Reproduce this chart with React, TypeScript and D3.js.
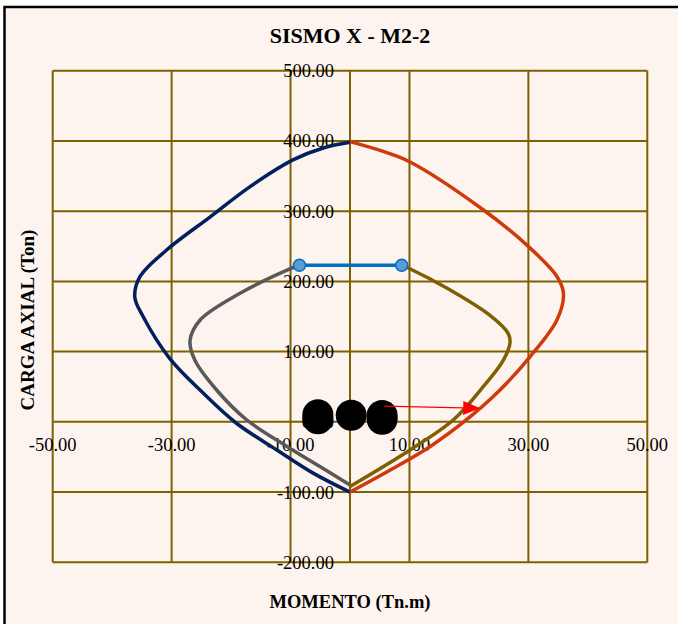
import React from "react";
import * as d3 from "d3";

type P = [number, number];

const xTicks = [-50, -30, -10, 10, 30, 50];
const yTicks = [500, 400, 300, 200, 100, 0, -100, -200];

const navyCurve: P[] = [[0, 398], [-4.5, 390], [-9.6, 373], [-16.8, 335], [-23.5, 292], [-30.8, 245], [-35.3, 207], [-36.2, 178], [-34.8, 150], [-30.3, 90], [-24.7, 41], [-19.1, -2], [-12.3, -40], [-6.2, -73], [0, -100]];
const redCurve: P[] = [[0, 399], [5.6, 385], [10.1, 370], [22.4, 302], [29.7, 252], [34.8, 207], [35.9, 183], [34.8, 145], [30.3, 93], [24.7, 41], [19.6, 3], [13.5, -35], [6.7, -69], [0, -100]];
const oliveCurve: P[] = [[8.7, 223], [9.8, 219], [16.8, 188], [23.5, 152], [26.6, 126], [26.9, 112], [25.8, 88], [22.4, 50], [17.4, 3], [10.1, -40], [0, -92]];
const greyCurve: P[] = [[-8.5, 223], [-10.6, 216], [-18.5, 183], [-25.2, 145], [-26.9, 116], [-26.1, 88], [-22.4, 45], [-17.4, 3], [-10.6, -35], [-5, -64], [0, -90]];
const blueLine: P[] = [[-8.5, 223], [8.7, 223]];
const demandPoints: P[] = [[-5.4, 10], [-5.4, 4.5], [0.2, 9.3], [5.4, 9.2], [5.4, 3.6]];
const arrowFrom: P = [5.7, 22.5];
const arrowTo: P = [21.9, 19.2];

const W = 678, H = 624;
const plot = { left: 52.7, right: 647.3, top: 70.7, bottom: 562.3 };
const GRID = "#7f6000";
const SERIF = "'Liberation Serif', 'Times New Roman', serif";
const fmt = (v: number) => d3.format(".2f")(v).replace("\u2212", "-");

export default function App() {
  const x = d3.scaleLinear().domain([-50, 50]).range([plot.left, plot.right]);
  const y = d3.scaleLinear().domain([-200, 500]).range([plot.bottom, plot.top]);
  const line = d3.line<P>().x(d => x(d[0])).y(d => y(d[1])).curve(d3.curveCatmullRom.alpha(0.5));
  const straight = d3.line<P>().x(d => x(d[0])).y(d => y(d[1]));

  const ax1 = x(arrowFrom[0]), ay1 = y(arrowFrom[1]);
  const ax2 = x(arrowTo[0]), ay2 = y(arrowTo[1]);
  const ang = Math.atan2(ay2 - ay1, ax2 - ax1);
  const hl = 17, hw = 7;
  const bx = ax2 - hl * Math.cos(ang), by = ay2 - hl * Math.sin(ang);
  const head = `M${ax2},${ay2}L${bx - hw * Math.sin(ang)},${by + hw * Math.cos(ang)}L${bx + hw * Math.sin(ang)},${by - hw * Math.cos(ang)}Z`;

  const vLines = [...xTicks, 0];

  return (
    <svg width={W} height={H} style={{ position: "absolute", left: 0, top: 0, background: "#ffffff" }}>
      <rect x={4.5} y={7} width={W + 10} height={H + 10} fill="#fdf4ef" stroke="#000" strokeWidth={2.5} />
      <text x={350} y={43} textAnchor="middle" fontFamily={SERIF} fontWeight="bold" fontSize={22}>SISMO X - M2-2</text>

      {yTicks.map(t => (
        <line key={"h" + t} x1={plot.left} x2={plot.right} y1={y(t)} y2={y(t)} stroke={GRID} strokeWidth={2} />
      ))}
      {vLines.map(t => (
        <line key={"v" + t} x1={x(t)} x2={x(t)} y1={plot.top} y2={plot.bottom} stroke={GRID} strokeWidth={2} />
      ))}

      {yTicks.map(t => (
        <text key={"yl" + t} x={x(0) - 16} y={y(t)} dy="0.35em" textAnchor="end" fontFamily={SERIF} fontSize={18.5} fill="#000">{fmt(t)}</text>
      ))}
      {xTicks.map(t => (
        <text key={"xl" + t} x={x(t)} y={y(0) + 23} dy="0.35em" textAnchor="middle" fontFamily={SERIF} fontSize={18.5} fill="#000">{fmt(t)}</text>
      ))}

      <path d={line(navyCurve) || ""} fill="none" stroke="#002060" strokeWidth={3.5} />
      <path d={line(redCurve) || ""} fill="none" stroke="#cf3a0c" strokeWidth={3.5} />
      <path d={line(greyCurve) || ""} fill="none" stroke="#595959" strokeWidth={3.5} />
      <path d={line(oliveCurve) || ""} fill="none" stroke="#7f6000" strokeWidth={3.5} />
      <path d={straight(blueLine) || ""} fill="none" stroke="#0070c0" strokeWidth={3.5} />
      {blueLine.map((d, i) => (
        <circle key={"m" + i} cx={x(d[0])} cy={y(d[1])} r={6} fill="#5b9bd5" stroke="#0070c0" strokeWidth={1.5} />
      ))}

      {demandPoints.map((d, i) => (
        <circle key={"p" + i} cx={x(d[0])} cy={y(d[1])} r={15.5} fill="#000" />
      ))}

      <line x1={ax1} y1={ay1} x2={bx} y2={by} stroke="#ff0000" strokeWidth={1.3} />
      <path d={head} fill="#ff0000" />

      <text x={350} y={608} textAnchor="middle" fontFamily={SERIF} fontWeight="bold" fontSize={18.5}>MOMENTO (Tn.m)</text>
      <text transform={`translate(34,320) rotate(-90)`} textAnchor="middle" fontFamily={SERIF} fontWeight="bold" fontSize={19}>CARGA AXIAL (Ton)</text>
    </svg>
  );
}
